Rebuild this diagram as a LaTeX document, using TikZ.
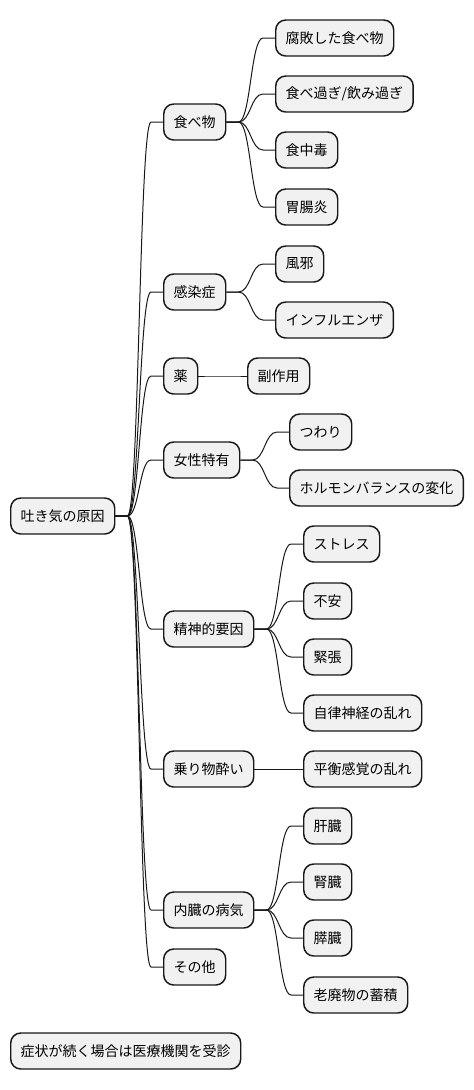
\documentclass[tikz,border=0pt]{standalone}
\usepackage{fontspec}
\newfontfamily\cjk{Noto Sans CJK JP}
\usetikzlibrary{calc}
\definecolor{bd}{HTML}{181818}
\definecolor{bg}{HTML}{F1F1F1}
\newcommand\mmlink[2]{\draw[link] let \p1=(#1.east), \p2=(#2.west) in (\p1) -- ++(9pt,0) .. controls ({(\x1+\x2)/2},\y1) and ({(\x1+\x2)/2},\y2) .. (\x2-9pt,\y2) -- (\p2);}
\begin{document}
\begin{tikzpicture}[x=0.75pt,y=-0.75pt,
 box/.style={draw=bd,fill=bg,line width=1.1pt,rounded corners=7.5pt,font=\cjk\fontsize{10.5pt}{12pt}\selectfont,inner xsep=7.5pt,inner ysep=0pt,minimum height=27pt,anchor=west,text=black},
 link/.style={draw=bd,line width=0.75pt}]
\useasboundingbox (0,0) rectangle (474,1090);
\node[box] (r) at (10,516) {吐き気の原因};
% level 1
\node[box] (a) at (163,122) {食べ物};
\node[box] (b) at (163,292) {感染症};
\node[box] (c) at (163,376) {薬};
\node[box] (d) at (163,460) {女性特有};
\node[box] (e) at (163,629) {精神的要因};
\node[box] (f) at (163,769) {乗り物酔い};
\node[box] (g) at (163,910) {内臓の病気};
\node[box] (h) at (163,967) {その他};
% level 2
\node[box] (a1) at (275,38) {腐敗した食べ物};
\node[box] (a2) at (275,94) {食べ過ぎ/飲み過ぎ};
\node[box] (a3) at (275,150) {食中毒};
\node[box] (a4) at (275,207) {胃腸炎};
\node[box] (b1) at (275,264) {風邪};
\node[box] (b2) at (275,320) {インフルエンザ};
\node[box] (c1) at (247,376) {副作用};
\node[box] (d1) at (289,432) {つわり};
\node[box] (d2) at (289,488) {ホルモンバランスの変化};
\node[box] (e1) at (303,544) {ストレス};
\node[box] (e2) at (303,601) {不安};
\node[box] (e3) at (303,657) {緊張};
\node[box] (e4) at (303,713) {自律神経の乱れ};
\node[box] (f1) at (303,769) {平衡感覚の乱れ};
\node[box] (g1) at (303,826) {肝臓};
\node[box] (g2) at (303,882) {腎臓};
\node[box] (g3) at (303,938) {膵臓};
\node[box] (g4) at (303,995) {老廃物の蓄積};
% footer
\node[box] (z) at (10,1051) {症状が続く場合は医療機関を受診};
% links
\foreach \c in {a,b,c,d,e,f,g,h} {\mmlink{r}{\c}}
\foreach \c in {a1,a2,a3,a4} {\mmlink{a}{\c}}
\foreach \c in {b1,b2} {\mmlink{b}{\c}}
\mmlink{c}{c1}
\foreach \c in {d1,d2} {\mmlink{d}{\c}}
\foreach \c in {e1,e2,e3,e4} {\mmlink{e}{\c}}
\mmlink{f}{f1}
\foreach \c in {g1,g2,g3,g4} {\mmlink{g}{\c}}
\end{tikzpicture}
\end{document}
